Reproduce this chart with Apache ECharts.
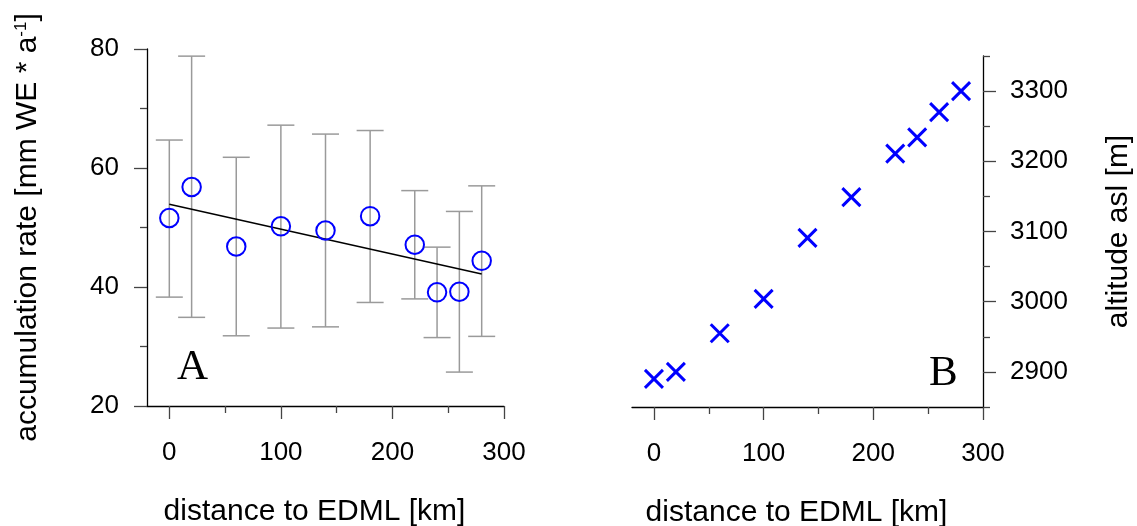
<!DOCTYPE html>
<html>
<head>
<meta charset="utf-8">
<script src="https://cdn.jsdelivr.net/npm/echarts@6/dist/echarts.min.js"></script>
<style>
html,body{margin:0;padding:0;background:#fff;}
#chart{width:1137px;height:526px;}
</style>
</head>
<body>
<div id="chart"></div>
<script>
// ---- data ----
var distance = [0, 20, 60, 100, 140, 180, 220, 240, 260, 280];
var accumRate = [51.6, 56.8, 46.8, 50.2, 49.5, 51.9, 47.1, 39.1, 39.2, 44.4];
var accumUpper = [64.7, 78.8, 61.8, 67.2, 65.7, 66.3, 56.2, 46.7, 52.7, 57.0];
var accumLower = [38.3, 34.9, 31.8, 33.1, 33.3, 37.4, 38.0, 31.5, 25.7, 31.7];
var trendX = [0, 280];
var trendY = [53.9, 42.2];
var altitude = [2890, 2900, 2955, 3004, 3091, 3149, 3211, 3234, 3270, 3300];

var distTicks = [0, 100, 200, 300];
var distMinorTicks = [50, 150, 250];
var accumTickInterval = 20;
var altTicks = [2900, 3000, 3100, 3200, 3300];
var altMinorTicks = [2850, 2950, 3050, 3150, 3250, 3350];

// ---- chart ----
var FONT = '"Liberation Sans", Arial, Helvetica, sans-serif';
var chart = echarts.init(document.getElementById('chart'), null, {renderer: 'canvas'});

function pairs(xs, ys) { return xs.map(function (x, i) { return [x, ys[i]]; }); }
function plain(v) { return String(v); }

var axisLineStyle = {show: true, onZero: false, lineStyle: {color: '#000', width: 1.3}};
var noLine = {show: false, onZero: false};
var tickLine = {color: '#444', width: 1.3};
var LABEL_SIZE = 26;

function mainX(grid) {
  return {
    type: 'value', gridIndex: grid, position: 'bottom', min: -20, max: 300,
    axisLine: axisLineStyle,
    axisTick: {show: true, customValues: distTicks, length: 13, lineStyle: tickLine},
    axisLabel: {customValues: distTicks, margin: 34, fontSize: LABEL_SIZE, color: '#000', fontFamily: FONT, formatter: plain},
    splitLine: {show: false},
    name: 'distance to EDML [km]', nameLocation: 'middle', nameGap: 91,
    nameTextStyle: {fontSize: 30, color: '#000', fontFamily: FONT, padding: [0, 22, 0, 0]}
  };
}
function minorX(grid) {
  return {
    type: 'value', gridIndex: grid, position: 'bottom', min: -20, max: 300,
    axisLine: noLine,
    axisTick: {show: true, customValues: distMinorTicks, length: 7, lineStyle: tickLine},
    axisLabel: {show: false},
    splitLine: {show: false}
  };
}

var option = {
  animation: false,
  backgroundColor: '#fff',
  textStyle: {fontFamily: FONT},
  grid: [
    {left: 147, top: 49, width: 357, height: 357, containLabel: false, outerBoundsMode: 'none'},
    {left: 632, top: 56, width: 351, height: 351, containLabel: false, outerBoundsMode: 'none'}
  ],
  xAxis: [mainX(0), minorX(0), mainX(1), minorX(1)],
  yAxis: [
    {
      type: 'value', gridIndex: 0, position: 'left', min: 20, max: 80, interval: accumTickInterval,
      axisLine: axisLineStyle,
      axisTick: {show: true, length: 13, lineStyle: tickLine},
      minorTick: {show: true, splitNumber: 2, length: 7, lineStyle: tickLine},
      axisLabel: {margin: 28, fontSize: LABEL_SIZE, color: '#000', fontFamily: FONT, formatter: plain},
      splitLine: {show: false},
      minorSplitLine: {show: false},
      name: 'accumulation rate [mm WE * a{sup|-1}]',
      nameLocation: 'middle', nameRotate: 90, nameGap: 104,
      nameTextStyle: {
        fontSize: 30, color: '#000', fontFamily: FONT,
        rich: {sup: {fontSize: 17, color: '#000', fontFamily: FONT, verticalAlign: 'top', padding: [0, 0, 12, 0]}}
      }
    },
    {
      type: 'value', gridIndex: 1, position: 'right', min: 2850, max: 3350, interval: 50,
      axisLine: axisLineStyle,
      axisTick: {show: true, customValues: altTicks, length: 13, lineStyle: tickLine},
      axisLabel: {customValues: altTicks, margin: 27, fontSize: LABEL_SIZE, color: '#000', fontFamily: FONT, formatter: plain},
      splitLine: {show: false},
      name: 'altitude asl [m]', nameLocation: 'middle', nameRotate: 90, nameGap: 121,
      nameTextStyle: {fontSize: 30, color: '#000', fontFamily: FONT}
    },
    {
      type: 'value', gridIndex: 1, position: 'right', offset: 0, min: 2850, max: 3350, interval: 50,
      axisLine: noLine,
      axisTick: {show: true, customValues: altMinorTicks, length: 7, lineStyle: tickLine},
      axisLabel: {show: false},
      splitLine: {show: false}
    }
  ],
  series: [
    {
      type: 'custom', xAxisIndex: 0, yAxisIndex: 0, z: 1,
      data: distance.map(function (d, i) { return [d, accumLower[i], accumUpper[i]]; }),
      renderItem: function (params, api) {
        var x = api.value(0);
        var lo = api.coord([x, api.value(1)]);
        var hi = api.coord([x, api.value(2)]);
        var hw = 13.5;
        var st = {stroke: '#9a9a9a', lineWidth: 1.5, fill: null};
        return {
          type: 'group',
          children: [
            {type: 'line', shape: {x1: lo[0], y1: lo[1], x2: hi[0], y2: hi[1]}, style: st},
            {type: 'line', shape: {x1: lo[0] - hw, y1: lo[1], x2: lo[0] + hw, y2: lo[1]}, style: st},
            {type: 'line', shape: {x1: hi[0] - hw, y1: hi[1], x2: hi[0] + hw, y2: hi[1]}, style: st}
          ]
        };
      }
    },
    {
      type: 'line', xAxisIndex: 0, yAxisIndex: 0, z: 2,
      data: pairs(trendX, trendY), showSymbol: false, symbol: 'none',
      lineStyle: {color: '#000', width: 1.5}
    },
    {
      type: 'scatter', xAxisIndex: 0, yAxisIndex: 0, z: 3,
      data: pairs(distance, accumRate),
      symbol: 'circle', symbolSize: 18.5,
      itemStyle: {color: 'rgba(0,0,0,0)', borderColor: '#0000ff', borderWidth: 2, opacity: 1}
    },
    {
      type: 'scatter', xAxisIndex: 2, yAxisIndex: 1, z: 3,
      data: pairs(distance, altitude),
      symbol: 'path://M0,0L20,20M20,0L0,20', symbolSize: 18,
      itemStyle: {color: 'rgba(0,0,0,0)', borderColor: '#0000ff', borderWidth: 3, opacity: 1}
    }
  ],
  graphic: [
    {type: 'text', left: 177, top: 346, style: {text: 'A', font: '43px "Liberation Serif", "Times New Roman", serif', fill: '#000'}},
    {type: 'text', left: 929, top: 352, style: {text: 'B', font: '43px "Liberation Serif", "Times New Roman", serif', fill: '#000'}}
  ]
};
chart.setOption(option);
</script>
</body>
</html>
